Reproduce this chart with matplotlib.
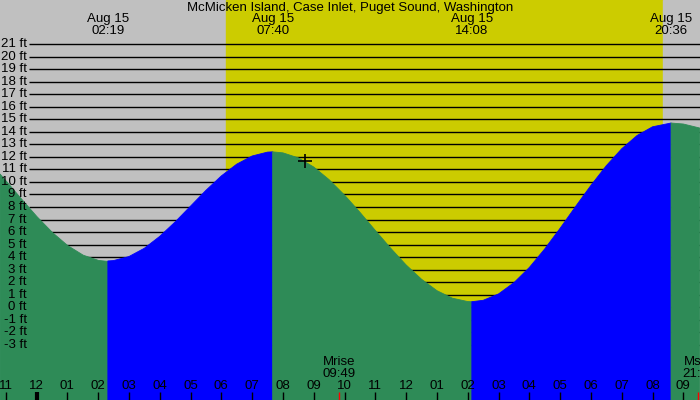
import numpy as np
import matplotlib
matplotlib.use('Agg')
import matplotlib.pyplot as plt

plt.rcParams['font.family'] = ['Liberation Sans', 'DejaVu Sans']

title = 'McMicken Island, Case Inlet, Puget Sound, Washington'

# tide heights (ft), hours from midnight Aug 15
times = [-1.2, -1.0, -0.5, 0.0, 0.5, 1.0, 1.5, 2.0, 2.317,
         2.5, 3.0, 3.5, 4.0, 4.5, 5.0, 5.5, 6.0, 6.5, 7.0, 7.5, 7.667,
         8.0, 8.5, 9.0, 9.5, 10.0, 10.5, 11.0, 11.5, 12.0, 12.5, 13.0, 13.5, 14.0, 14.133,
         14.5, 15.0, 15.5, 16.0, 16.5, 17.0, 17.5, 18.0, 18.5, 19.0, 19.5, 20.0, 20.6,
         21.0, 21.53]
heights = [10.67, 10.11, 8.67, 7.27, 6.01, 4.96, 4.20, 3.78, 3.70,
           3.73, 4.05, 4.71, 5.66, 6.81, 8.07, 9.33, 10.48, 11.42, 12.07, 12.38, 12.40,
           12.32, 11.92, 11.19, 10.18, 8.95, 7.58, 6.13, 4.71, 3.38, 2.24, 1.33, 0.73, 0.46, 0.45,
           0.56, 1.07, 1.97, 3.18, 4.66, 6.31, 8.04, 9.73, 11.30, 12.65, 13.71, 14.40, 14.70,
           14.62, 14.30]

# high / low tides
extreme_times = [2.317, 7.667, 14.133, 20.6]
extreme_labels = ['02:19', '07:40', '14:08', '20:36']
extreme_date = 'Aug 15'

sunrise = 6.14
sunset = 20.33
moon_times = [9.817, 21.49]
moon_labels = ['Mrise\n09:49', 'Mset\n21:29']

now_time = 8.71
now_height = 11.67

hours = list(range(-1, 22))
feet = list(range(-3, 22))

GRAY = '#c0c0c0'
YELLOW = '#cccc00'
GREEN = '#2e8b57'
BLUE = '#0000ff'
FS = 9.5

fig = plt.figure(figsize=(7, 4), dpi=100)
ax = fig.add_axes([0, 0, 1, 1])
ax.set_xlim(-1.185, 21.54)
ax.set_ylim(-7.39, 24.51)
ax.axis('off')

ax.axvspan(-5, sunrise, color=GRAY, zorder=0)
ax.axvspan(sunrise, sunset, color=YELLOW, zorder=0)
ax.axvspan(sunset, 30, color=GRAY, zorder=0)

ytr = ax.get_yaxis_transform()
xtr = ax.get_xaxis_transform()
ax.hlines(feet, 29 / 700, 1, transform=ytr, color='black', lw=1.0, zorder=1)
for f in feet:
    ax.text(27 / 700, f, f'{f} ft', transform=ytr, ha='right', va='center',
            fontsize=FS, zorder=5)

# fill the tide curve, green when falling, blue when rising
t = np.array(times)
h = np.array(heights)
bounds = [t[0]] + extreme_times + [t[-1]]
for i in range(len(bounds) - 1):
    m = (t >= bounds[i]) & (t <= bounds[i + 1])
    seg_t, seg_h = t[m], h[m]
    color = BLUE if seg_h[-1] > seg_h[0] else GREEN
    ax.fill_between(seg_t, -20, seg_h, facecolor=color, edgecolor=color, lw=0.6, zorder=2)

ax.plot(now_time, now_height, marker='+', color='black', ms=10, mew=1.2, zorder=6)

ax.text(0.5, 1 - 8 / 400, title, transform=ax.transAxes, ha='center', va='center',
        fontsize=FS)
for et, el in zip(extreme_times, extreme_labels):
    ax.text(et, 1 - 25 / 400, f'{extreme_date}\n{el}', transform=xtr, ha='center',
            va='center', fontsize=FS, linespacing=1.0)

for hr in hours:
    label = f'{(hr - 1) % 12 + 1:02d}'
    ax.text(hr, 14 / 400, label, transform=xtr, ha='center', va='center',
            fontsize=FS, zorder=5)
    ax.vlines(hr, 0, 8 / 400, transform=xtr, color='black',
              lw=3 if hr == 0 else 1, zorder=5)

for mt, ml in zip(moon_times, moon_labels):
    ax.vlines(mt, 0, 8 / 400, transform=xtr, color='red', lw=1, zorder=5)
    ax.text(mt, 32 / 400, ml, transform=xtr, ha='center', va='center',
            fontsize=FS, linespacing=1.0, zorder=5)

fig.savefig('out.png', dpi=100)
